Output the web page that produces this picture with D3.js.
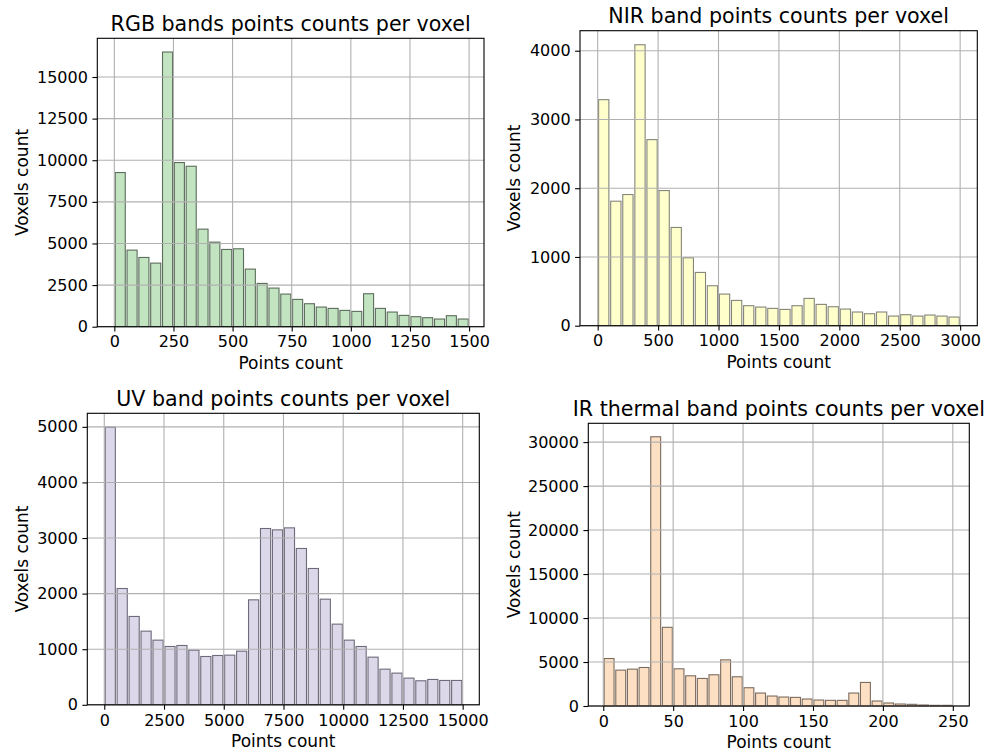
<!DOCTYPE html>
<html>
<head>
<meta charset="utf-8">
<script src="https://cdn.jsdelivr.net/npm/d3@7"></script>
<style>
  html, body { margin: 0; padding: 0; background: #ffffff; }
  svg { display: block; font-family: "DejaVu Sans", sans-serif; }
</style>
</head>
<body>
<svg id="chart" width="999" height="752"></svg>
<script>
// ---------------- data ----------------
// 30 equal-width bins per histogram
const rgbRange = [0, 1500];
const rgbCounts = [9260, 4600, 4160, 3820, 16500, 9860, 9640, 5860, 5080, 4640,
                   4680, 3460, 2600, 2320, 1960, 1640, 1380, 1180, 1100, 980,
                   920, 1980, 1100, 880, 680, 600, 540, 460, 660, 460];
const rgbXTicks = [0, 250, 500, 750, 1000, 1250, 1500];
const rgbYTicks = [0, 2500, 5000, 7500, 10000, 12500, 15000];

const nirRange = [0, 3000];
const nirCounts = [3288, 1811, 1908, 4087, 2707, 1966, 1429, 988, 775, 581,
                   460, 368, 291, 271, 252, 237, 291, 397, 310, 276,
                   242, 199, 174, 199, 140, 160, 140, 155, 140, 126];
const nirXTicks = [0, 500, 1000, 1500, 2000, 2500, 3000];
const nirYTicks = [0, 1000, 2000, 3000, 4000];

const uvRange = [0, 15000];
const uvCounts = [4994, 2092, 1589, 1325, 1163, 1049, 1067, 983, 869, 887,
                  893, 965, 1888, 3171, 3147, 3183, 2812, 2452, 1900, 1451,
                  1163, 1049, 857, 641, 570, 480, 432, 456, 438, 438];
const uvXTicks = [0, 2500, 5000, 7500, 10000, 12500, 15000];
const uvYTicks = [0, 1000, 2000, 3000, 4000, 5000];

const irRange = [0, 250];
const irCounts = [5397, 4076, 4189, 4378, 30607, 8944, 4227, 3434, 3132, 3547,
                  5246, 3321, 2076, 1472, 1132, 1019, 981, 793, 679, 642,
                  642, 1472, 2679, 566, 340, 226, 189, 113, 75, 75];
const irXTicks = [0, 50, 100, 150, 200, 250];
const irYTicks = [0, 5000, 10000, 15000, 20000, 25000, 30000];

const titles = [
  "RGB bands points counts per voxel",
  "NIR band points counts per voxel",
  "UV band points counts per voxel",
  "IR thermal band points counts per voxel"
];
const xLabel = "Points count";
const yLabel = "Voxels count";

// ---------------- layout ----------------
const panels = [
  { title: titles[0], values: rgbCounts, range: rgbRange, xTicks: rgbXTicks, yTicks: rgbYTicks,
    box: { l: 97.3, r: 484, t: 38.3, b: 326.7 }, xDom: [-72, 1563],
    fill: "#c2e4c1", stroke: "#5b6d5b", yLabelX: 22 },
  { title: titles[1], values: nirCounts, range: nirRange, xTicks: nirXTicks, yTicks: nirYTicks,
    box: { l: 580, r: 977.3, t: 30.7, b: 325.7 }, xDom: [-146.5, 3142],
    fill: "#ffffcc", stroke: "#85857a", yLabelX: 514 },
  { title: titles[2], values: uvCounts, range: uvRange, xTicks: uvXTicks, yTicks: uvYTicks,
    box: { l: 87.3, r: 479.3, t: 413.3, b: 704.8 }, xDom: [-711, 15696],
    fill: "#dcd8e9", stroke: "#6d6a7b", yLabelX: 22 },
  { title: titles[3], values: irCounts, range: irRange, xTicks: irXTicks, yTicks: irYTicks,
    box: { l: 588.3, r: 969.3, t: 423.3, b: 706 }, xDom: [-10.7, 261.8],
    fill: "#fde0c4", stroke: "#7c6b5d", yLabelX: 514 }
];

const svg = d3.select("#chart");
const TICK_FONT = 16, TITLE_FONT = 20.6, LABEL_FONT = 17;
const rwidth = 0.85;

panels.forEach(p => {
  const { l, r, t, b } = p.box;
  const x = d3.scaleLinear().domain(p.xDom).range([l, r]);
  const yMax = d3.max(p.values) * 1.05;
  const y = d3.scaleLinear().domain([0, yMax]).range([b, t]);
  const n = p.values.length;
  const w = (p.range[1] - p.range[0]) / n;
  const bins = p.values.map((v, i) => ({ x0: p.range[0] + i * w, v }));

  const g = svg.append("g");

  // bars
  g.append("g").selectAll("rect").data(bins).join("rect")
    .attr("x", d => x(d.x0 + w * (1 - rwidth) / 2))
    .attr("width", d => x(d.x0 + w * (1 + rwidth) / 2) - x(d.x0 + w * (1 - rwidth) / 2))
    .attr("y", d => y(d.v))
    .attr("height", d => y(0) - y(d.v))
    .attr("fill", p.fill)
    .attr("stroke", p.stroke)
    .attr("stroke-width", 1.1);

  // grid (above bars, as in matplotlib)
  const grid = g.append("g").attr("stroke", "#b0b0b0").attr("stroke-width", 1.1);
  p.xTicks.forEach(v => grid.append("line")
    .attr("x1", x(v)).attr("x2", x(v)).attr("y1", t).attr("y2", b));
  p.yTicks.forEach(v => grid.append("line")
    .attr("x1", l).attr("x2", r).attr("y1", y(v)).attr("y2", y(v)));

  // axes
  const xAxis = d3.axisBottom(x).tickValues(p.xTicks).tickSize(4.9).tickPadding(4.5)
    .tickFormat(d3.format("d"));
  const yAxis = d3.axisLeft(y).tickValues(p.yTicks).tickSize(4.9).tickPadding(4.5)
    .tickFormat(d3.format("d"));
  const gx = g.append("g").attr("transform", `translate(0,${b})`).call(xAxis);
  const gy = g.append("g").attr("transform", `translate(${l},0)`).call(yAxis);
  [gx, gy].forEach(a => {
    a.select(".domain").remove();
    a.selectAll(".tick line").attr("stroke", "#000").attr("stroke-width", 1.1);
    a.selectAll(".tick text").attr("fill", "#000")
      .style("font-family", "DejaVu Sans").style("font-size", TICK_FONT + "px");
  });

  // frame
  g.append("rect").attr("x", l).attr("y", t).attr("width", r - l).attr("height", b - t)
    .attr("fill", "none").attr("stroke", "#000").attr("stroke-width", 1.1);

  // title
  g.append("text").attr("x", (l + r) / 2).attr("y", t - 7.5)
    .attr("text-anchor", "middle").style("font-size", TITLE_FONT + "px").text(p.title);

  // axis labels
  g.append("text").attr("x", (l + r) / 2).attr("y", b + 42)
    .attr("text-anchor", "middle").style("font-size", LABEL_FONT + "px").text(xLabel);
  g.append("text").attr("transform", `translate(${p.yLabelX + 6},${(t + b) / 2}) rotate(-90)`)
    .attr("text-anchor", "middle").style("font-size", LABEL_FONT + "px").text(yLabel);
});
</script>
</body>
</html>
